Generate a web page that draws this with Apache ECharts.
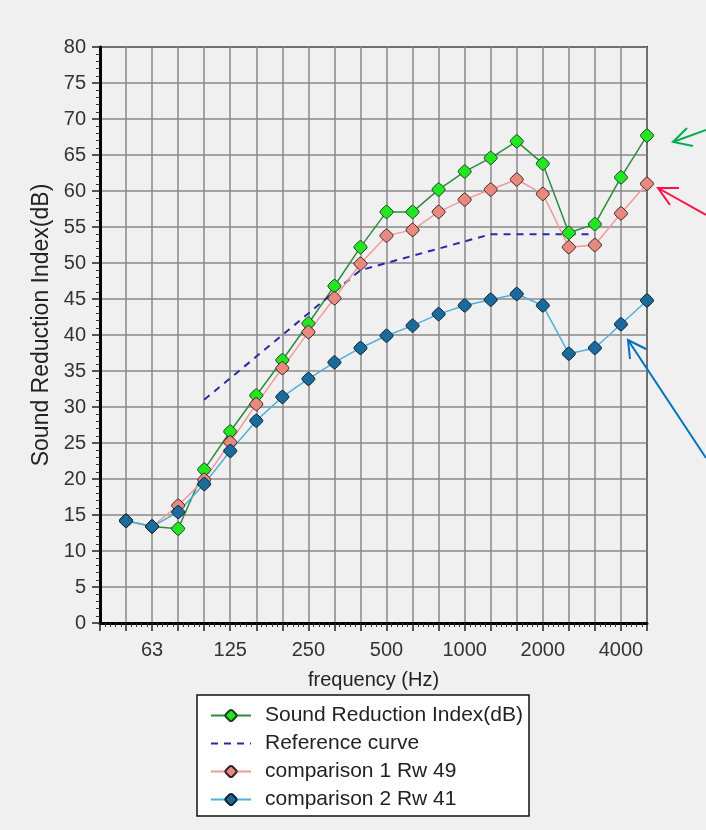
<!DOCTYPE html>
<html>
<head>
<meta charset="utf-8">
<script src="https://cdn.jsdelivr.net/npm/echarts@6/dist/echarts.min.js"></script>
<style>
  html, body { margin: 0; padding: 0; background: #f0f0f0; }
  #chart { width: 706px; height: 830px; }
</style>
</head>
<body>
<div id="chart"></div>
<script>
// One-third octave band centre frequencies (Hz), 40 .. 5000
const bands = ['40','50','63','80','100','125','160','200','250','315','400','500','630','800','1000','1250','1600','2000','2500','3150','4000','5000'];
// Bands that carry a tick label
const tickLabels = ['63','125','250','500','1000','2000','4000'];

// Sound reduction index per band (dB); null where not measured
const soundReduction = [null, 14.2, 13.4, 13.1, 21.3, 26.6, 31.6, 36.5, 41.6, 46.8, 52.2, 57.1, 57.1, 60.2, 62.7, 64.6, 66.9, 63.8, 54.2, 55.4, 61.9, 67.7];
// Shifted reference curve, 100 .. 3150 Hz
const referenceCurve = [null, null, null, null, 31, 34, 37, 40, 43, 46, 49, 50, 51, 52, 53, 54, 54, 54, 54, 54, null, null];
const comparison1 = [null, 14.2, 13.4, 16.3, 19.9, 25.1, 30.4, 35.4, 40.4, 45.1, 49.9, 53.8, 54.6, 57.1, 58.8, 60.2, 61.6, 59.6, 52.2, 52.5, 56.9, 61.0];
const comparison2 = [null, 14.2, 13.4, 15.4, 19.3, 23.9, 28.1, 31.4, 33.9, 36.2, 38.2, 39.9, 41.3, 42.9, 44.1, 44.9, 45.7, 44.1, 37.4, 38.2, 41.5, 44.8];

const FONT = 'Liberation Sans';
// rounded diamond marker
const MARK = 'path://M50,0 Q57,0 63,6 L94,37 Q100,43 100,50 Q100,57 94,63 L63,94 Q57,100 50,100 Q43,100 37,94 L6,63 Q0,57 0,50 Q0,43 6,37 L37,6 Q43,0 50,0 Z';

function pairs(values) {
  return values.map((v, i) => [i, v]);
}

function markedLine(name, values, lineColor, fill, border) {
  return {
    name: name,
    type: 'line',
    data: pairs(values),
    symbol: MARK,
    symbolSize: 13,
    showAllSymbol: true,
    connectNulls: false,
    lineStyle: { color: lineColor, width: 1.5 },
    itemStyle: { color: fill, borderColor: border, borderWidth: 1 },
    emphasis: { disabled: true },
    animation: false
  };
}

// annotation arrows pointing at the curves on the right
const arrows = [
  { color: '#00b050', shaft: [[706, 130], [673, 142]], head: [[687, 128], [673, 142], [693, 146]] },
  { color: '#ff1040', shaft: [[706, 215], [658, 188]], head: [[679, 188], [658, 188], [670, 205]] },
  { color: '#0070c0', shaft: [[706, 458], [628, 340]], head: [[646, 349], [628, 340], [630, 359]] }
];
const arrowGraphics = [];
arrows.forEach(a => {
  arrowGraphics.push({ type: 'polyline', shape: { points: a.shaft }, style: { stroke: a.color, lineWidth: 2, fill: null }, z: 100 });
  arrowGraphics.push({ type: 'polyline', shape: { points: a.head }, style: { stroke: a.color, lineWidth: 2, fill: null }, z: 100 });
});

const seriesNames = ['Sound Reduction Index(dB)', 'Reference curve', 'comparison 1 Rw 49', 'comparison 2 Rw 41'];

const chart = echarts.init(document.getElementById('chart'), null, { renderer: 'canvas' });
chart.setOption({
  backgroundColor: '#f0f0f0',
  animation: false,
  textStyle: { fontFamily: FONT },
  grid: {
    left: 100, top: 47, width: 547, height: 576,
    show: true, borderColor: '#222', borderWidth: 2, backgroundColor: 'transparent'
  },
  xAxis: {
    type: 'value',
    min: 0, max: bands.length - 1, interval: 1,
    name: 'frequency (Hz)',
    nameLocation: 'middle',
    nameGap: 47,
    nameTextStyle: { fontSize: 20, color: '#222', fontFamily: FONT },
    axisLine: { show: true, onZero: false, lineStyle: { color: '#000', width: 3 } },
    axisTick: { show: true, length: 8, lineStyle: { color: '#222', width: 1.5 } },
    minorTick: { show: true, splitNumber: 5, length: 4, lineStyle: { color: '#333', width: 1 } },
    axisLabel: {
      margin: 17, fontSize: 20, color: '#333', fontFamily: FONT,
      formatter: v => (tickLabels.indexOf(bands[v]) >= 0 ? bands[v] : '')
    },
    splitLine: { show: true, lineStyle: { color: '#8a8a8a', width: 1.5 } }
  },
  yAxis: {
    type: 'value',
    min: 0, max: 80, interval: 5,
    name: 'Sound Reduction Index(dB)',
    nameLocation: 'middle',
    nameGap: 47,
    nameTextStyle: { fontSize: 23, color: '#222', fontFamily: FONT, padding: [0, 0, 0, 20] },
    axisLine: { show: true, lineStyle: { color: '#000', width: 3 } },
    axisTick: { show: true, length: 8, lineStyle: { color: '#222', width: 1.5 } },
    minorTick: { show: true, splitNumber: 5, length: 4, lineStyle: { color: '#333', width: 1 } },
    axisLabel: { margin: 14, fontSize: 20, color: '#333', fontFamily: FONT },
    splitLine: { show: true, lineStyle: { color: '#8a8a8a', width: 1.5 } }
  },
  legend: {
    orient: 'vertical',
    left: 197, top: 695,
    padding: [10, 6, 6, 13],
    itemWidth: 40, itemHeight: 14, itemGap: 7,
    backgroundColor: '#ffffff',
    borderColor: '#111', borderWidth: 1.5,
    textStyle: { fontSize: 21, color: '#222', fontFamily: FONT, lineHeight: 21, padding: [0, 0, 0, 9] },
    selectedMode: false,
    data: seriesNames.map(n => (n === 'Reference curve' ? { name: n, itemStyle: { opacity: 0 } } : { name: n }))
  },
  graphic: arrowGraphics,
  series: [
    markedLine(seriesNames[0], soundReduction, '#2e8b3e', '#22e622', '#1f3f1f'),
    {
      name: seriesNames[1],
      type: 'line',
      data: pairs(referenceCurve),
      symbol: 'none',
      lineStyle: { color: '#2a2aa8', width: 2, type: [7, 6] },
      itemStyle: { color: '#2a2aa8' },
      emphasis: { disabled: true }
    },
    markedLine(seriesNames[2], comparison1, '#f29a9a', '#e8897f', '#3a2222'),
    markedLine(seriesNames[3], comparison2, '#4fb0d8', '#1b6b9a', '#0d2233')
  ]
});
</script>
</body>
</html>
